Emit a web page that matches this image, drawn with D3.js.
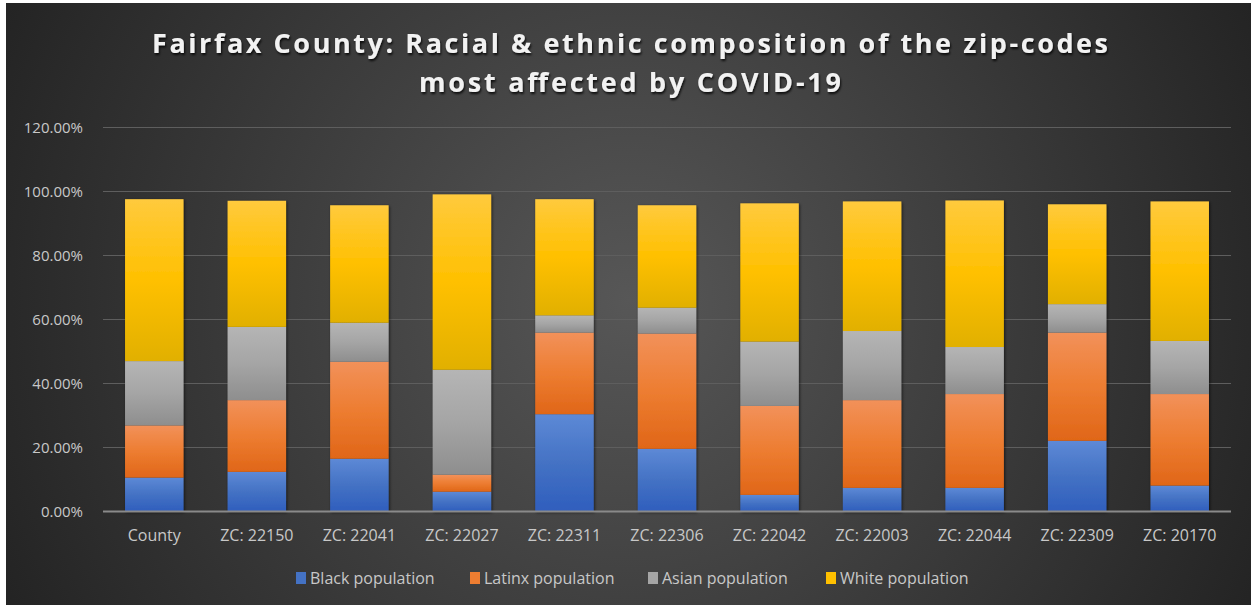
<!DOCTYPE html>
<html><head><meta charset="utf-8">
<script src="https://cdn.jsdelivr.net/npm/d3@7/dist/d3.min.js"></script>
<style>html,body{margin:0;padding:0;background:#fff;overflow:hidden}svg{display:block}</style>
</head><body>
<script>
const categories = ["County","ZC: 22150","ZC: 22041","ZC: 22027","ZC: 22311","ZC: 22306","ZC: 22042","ZC: 22003","ZC: 22044","ZC: 22309","ZC: 20170"];
const seriesNames = ["Black population","Latinx population","Asian population","White population"];
const black  = [10.6, 12.4, 16.5, 6.2, 30.4, 19.6, 5.2, 7.4, 7.4, 22.1, 8.1];
const latinx = [16.3, 22.4, 30.3, 5.3, 25.5, 36.0, 27.8, 27.4, 29.3, 33.8, 28.6];
const asian  = [20.1, 22.9, 12.2, 32.8, 5.4, 8.1, 20.1, 21.6, 14.7, 8.9, 16.6];
const white  = [50.6, 39.4, 36.7, 54.8, 36.3, 32.0, 43.2, 40.5, 45.8, 31.2, 43.6];
const yTicks = [0, 20, 40, 60, 80, 100, 120];
const titleLines = ["Fairfax County: Racial & ethnic composition of the zip-codes", "most affected by COVID-19"];

const W = 1251, H = 605;
const svg = d3.select("body").append("svg").attr("width", W).attr("height", H);
const defs = svg.append("defs");

// background
const bg = defs.append("radialGradient").attr("id","bg").attr("gradientUnits","userSpaceOnUse")
  .attr("cx", 630).attr("cy", 300).attr("r", 700);
bg.append("stop").attr("offset","0%").attr("stop-color","#575757");
bg.append("stop").attr("offset","100%").attr("stop-color","#232323");
svg.append("rect").attr("x",6).attr("y",3).attr("width",W-6).attr("height",H-3).attr("fill","url(#bg)");

const colors = [
  ["#5d89d6","#4472c4","#2f5ebd"],
  ["#f2915a","#ed7d31","#e06618"],
  ["#b5b5b5","#a5a5a5","#8e8e8e"],
  ["#ffca3d","#ffc000","#e1b000"]
];
colors.forEach((c,i)=>{
  const g = defs.append("linearGradient").attr("id","g"+i).attr("x1",0).attr("y1",0).attr("x2",0).attr("y2",1);
  g.append("stop").attr("offset","0%").attr("stop-color",c[0]);
  g.append("stop").attr("offset","50%").attr("stop-color",c[1]);
  g.append("stop").attr("offset","100%").attr("stop-color",c[2]);
});
const sh = defs.append("filter").attr("id","sh").attr("x","-20%").attr("y","-20%").attr("width","140%").attr("height","140%");
sh.append("feDropShadow").attr("dx",1).attr("dy",1).attr("stdDeviation",1.5).attr("flood-color","#000").attr("flood-opacity",0.6);
const tsh = defs.append("filter").attr("id","tsh").attr("x","-5%").attr("y","-20%").attr("width","110%").attr("height","150%");
tsh.append("feDropShadow").attr("dx",1).attr("dy",2).attr("stdDeviation",1.2).attr("flood-color","#000").attr("flood-opacity",0.8);

// title
const title = svg.append("g").attr("filter","url(#tsh)");
title.append("text").attr("x",630).attr("y",53).attr("text-anchor","middle")
  .attr("font-family","Open Sans").attr("font-weight","700").attr("font-size",27)
  .attr("fill","#f2f2f2").attr("textLength",956).attr("lengthAdjust","spacing").text(titleLines[0]);
title.append("text").attr("x",630).attr("y",92).attr("text-anchor","middle")
  .attr("font-family","Open Sans").attr("font-weight","700").attr("font-size",27)
  .attr("fill","#f2f2f2").attr("textLength",422).attr("lengthAdjust","spacing").text(titleLines[1]);

// scales
const x = d3.scaleBand().domain(categories).range([103, 1231]).paddingInner(0.43).paddingOuter(0.215);
const y = d3.scaleLinear().domain([0,120]).range([511.5, 127.5]);

// gridlines
svg.append("g").selectAll("line").data(yTicks.filter(d=>d>0)).join("line")
  .attr("x1",103).attr("x2",1231).attr("y1",d=>y(d)).attr("y2",d=>y(d))
  .attr("stroke","#5e5e5e").attr("stroke-width",1.2);

// y axis
const yAxis = svg.append("g").attr("transform","translate(103,0)")
  .call(d3.axisLeft(y).tickValues(yTicks).tickFormat(d=>d.toFixed(2)+"%").tickSize(0).tickPadding(20));
yAxis.select(".domain").remove();
yAxis.selectAll("text").attr("font-family","Open Sans").attr("font-size",15).attr("fill","#c8c8c8");

// stacked bars
const rows = categories.map((c,i)=>({cat:c, s0:black[i], s1:latinx[i], s2:asian[i], s3:white[i]}));
const stack = d3.stack().keys(["s0","s1","s2","s3"])(rows);
const barsG = svg.append("g").attr("filter","url(#sh)");
stack.forEach((layer,li)=>{
  barsG.append("g").selectAll("rect").data(layer).join("rect")
    .attr("x",d=>x(d.data.cat)).attr("width",x.bandwidth())
    .attr("y",d=>y(d[1])).attr("height",d=>y(d[0])-y(d[1]))
    .attr("fill","url(#g"+li+")");
});

// x axis
const xAxis = svg.append("g").attr("transform","translate(0,511.5)")
  .call(d3.axisBottom(x).tickSize(0).tickPadding(18));
xAxis.select(".domain").attr("stroke","#8a8a8a").attr("stroke-width",2).attr("d","M103,0H1231");
xAxis.selectAll("text").attr("font-family","Open Sans").attr("font-size",16).attr("fill","#c8c8c8");

// legend
const legX = [296, 470, 648, 826];
const leg = svg.append("g");
seriesNames.forEach((n,i)=>{
  const g = leg.append("g").attr("transform",`translate(${legX[i]},578)`);
  g.append("rect").attr("x",0).attr("y",-6).attr("width",10).attr("height",12).attr("fill",colors[i][1]);
  g.append("text").attr("x",14).attr("y",5.5).attr("font-family","Open Sans").attr("font-size",16)
    .attr("fill","#c8c8c8").text(n);
});
</script>
</body></html>
